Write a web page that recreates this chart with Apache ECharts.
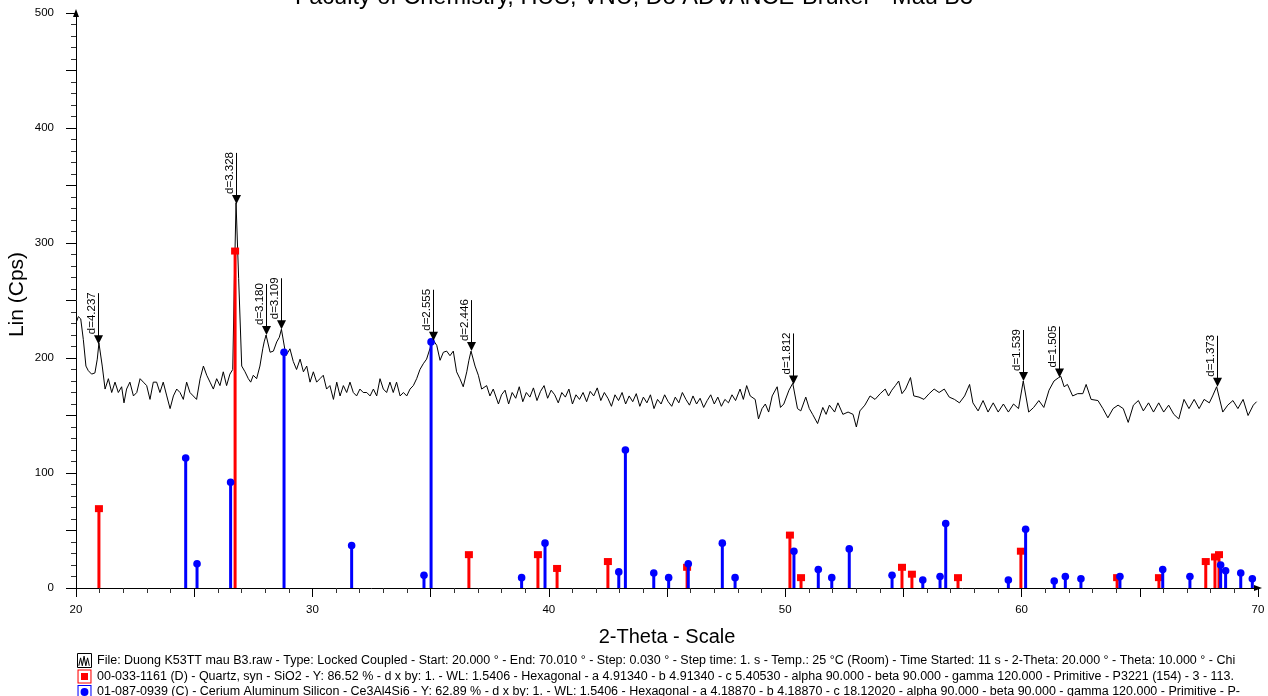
<!DOCTYPE html>
<html>
<head>
<meta charset="utf-8">
<title>XRD - Mau B3</title>
<script src="https://cdn.jsdelivr.net/npm/echarts@6/dist/echarts.min.js"></script>
<style>
    html, body { margin: 0; padding: 0; background: #fff; }
    #div_xrd { width: 1268px; height: 696px; }
</style>
</head>
<body>
<div id="div_xrd"></div>
<script>
var scanAngle = [20.03, 20.10, 20.20, 20.31, 20.42, 20.52, 20.66, 20.80, 20.90, 20.97, 21.11, 21.23, 21.37, 21.51, 21.65, 21.79, 21.93, 22.03, 22.14, 22.28, 22.43, 22.57, 22.71, 22.85, 22.99, 23.13, 23.27, 23.41, 23.55, 23.69, 23.84, 23.98, 24.12, 24.26, 24.40, 24.54, 24.68, 24.82, 24.96, 25.10, 25.25, 25.39, 25.53, 25.67, 25.81, 25.95, 26.09, 26.23, 26.37, 26.51, 26.63, 26.70, 26.77, 26.88, 27.01, 27.15, 27.29, 27.39, 27.50, 27.64, 27.78, 27.90, 27.96, 28.04, 28.21, 28.35, 28.49, 28.60, 28.69, 28.88, 29.05, 29.19, 29.33, 29.48, 29.62, 29.76, 29.90, 30.04, 30.18, 30.32, 30.46, 30.60, 30.74, 30.89, 31.03, 31.17, 31.31, 31.45, 31.59, 31.73, 31.87, 32.01, 32.15, 32.30, 32.44, 32.58, 32.72, 32.86, 33.00, 33.14, 33.28, 33.42, 33.56, 33.71, 33.85, 33.99, 34.13, 34.27, 34.41, 34.55, 34.69, 34.83, 34.97, 35.10, 35.26, 35.40, 35.54, 35.68, 35.82, 35.96, 36.10, 36.24, 36.38, 36.53, 36.62, 36.71, 36.88, 37.02, 37.16, 37.37, 37.51, 37.65, 37.87, 38.00, 38.15, 38.30, 38.45, 38.60, 38.75, 38.90, 39.05, 39.20, 39.35, 39.50, 39.65, 39.80, 39.95, 40.10, 40.25, 40.40, 40.55, 40.70, 40.85, 41.00, 41.15, 41.30, 41.45, 41.60, 41.75, 41.90, 42.05, 42.20, 42.35, 42.50, 42.65, 42.80, 42.95, 43.10, 43.25, 43.40, 43.55, 43.70, 43.85, 44.00, 44.15, 44.30, 44.45, 44.60, 44.75, 44.90, 45.05, 45.20, 45.35, 45.50, 45.65, 45.80, 45.95, 46.10, 46.25, 46.40, 46.55, 46.70, 46.85, 47.00, 47.15, 47.30, 47.45, 47.60, 47.75, 47.90, 48.09, 48.23, 48.37, 48.52, 48.73, 48.87, 49.02, 49.16, 49.30, 49.45, 49.66, 49.80, 49.94, 50.16, 50.32, 50.52, 50.66, 50.87, 51.02, 51.16, 51.37, 51.59, 51.73, 51.87, 52.09, 52.23, 52.44, 52.66, 52.87, 53.01, 53.16, 53.37, 53.59, 53.80, 54.02, 54.23, 54.37, 54.51, 54.66, 54.80, 54.94, 55.09, 55.30, 55.44, 55.66, 55.87, 56.09, 56.30, 56.51, 56.73, 56.94, 57.16, 57.37, 57.59, 57.80, 57.94, 58.16, 58.37, 58.58, 58.80, 59.01, 59.23, 59.44, 59.66, 59.87, 60.07, 60.30, 60.51, 60.73, 60.94, 61.16, 61.37, 61.57, 61.66, 61.80, 61.94, 62.16, 62.37, 62.59, 62.73, 62.94, 63.23, 63.44, 63.65, 63.87, 64.08, 64.30, 64.51, 64.73, 64.94, 65.15, 65.37, 65.58, 65.80, 66.01, 66.22, 66.44, 66.65, 66.87, 67.08, 67.30, 67.51, 67.72, 67.94, 68.08, 68.25, 68.51, 68.72, 68.94, 69.15, 69.37, 69.58, 69.80, 69.94];
var scanCounts = [232, 236, 234, 216, 193, 189, 186, 187, 199, 213, 193, 173, 182, 170, 179, 170, 175, 161, 173, 179, 167, 170, 182, 179, 176, 164, 179, 179, 170, 179, 167, 156, 167, 173, 170, 164, 179, 170, 167, 164, 182, 193, 185, 179, 173, 182, 176, 188, 176, 186, 190, 268, 335, 269, 193, 188, 182, 179, 185, 182, 193, 208, 214, 220, 205, 206, 214, 218, 225, 202, 208, 197, 190, 199, 188, 193, 179, 188, 179, 182, 185, 173, 176, 164, 179, 167, 176, 170, 179, 170, 167, 173, 170, 170, 167, 173, 167, 182, 173, 170, 179, 170, 179, 167, 170, 167, 173, 176, 182, 190, 195, 199, 208, 216, 211, 198, 205, 206, 202, 206, 188, 182, 175, 188, 198, 206, 193, 185, 173, 176, 167, 173, 160, 168, 172, 160, 170, 165, 175, 162, 170, 166, 174, 163, 171, 176, 165, 172, 168, 161, 170, 166, 173, 160, 168, 164, 170, 162, 171, 167, 174, 163, 170, 165, 158, 168, 163, 170, 160, 167, 162, 169, 158, 166, 161, 168, 156, 164, 160, 168, 162, 158, 166, 161, 170, 164, 159, 167, 160, 165, 157, 163, 168, 160, 166, 158, 164, 161, 168, 163, 173, 164, 176, 167, 164, 147, 156, 160, 153, 167, 175, 157, 160, 172, 178, 156, 154, 166, 156, 151, 143, 157, 151, 159, 153, 161, 151, 153, 151, 140, 154, 159, 167, 164, 169, 173, 167, 172, 176, 180, 169, 173, 183, 167, 166, 164, 169, 173, 170, 173, 166, 164, 161, 167, 177, 161, 154, 163, 153, 161, 153, 160, 153, 160, 156, 180, 153, 157, 163, 157, 172, 180, 183, 184, 175, 177, 167, 169, 169, 177, 164, 163, 156, 148, 156, 159, 156, 144, 159, 163, 154, 161, 153, 161, 153, 159, 151, 147, 164, 156, 164, 156, 164, 161, 167, 175, 153, 159, 163, 156, 164, 150, 159, 162];

// 00-033-1161 Quartz reference lines
var quartzAngle = [20.97, 26.73, 36.62, 39.54, 40.35, 42.50, 45.85, 50.20, 50.67, 54.94, 55.36, 57.31, 59.97, 64.04, 65.81, 67.79, 68.18, 68.35];
var quartzCounts = [69, 293, 29, 29, 17, 23, 18, 46, 9, 18, 12, 9, 32, 9, 9, 23, 27, 29];

// 01-087-0939 Ce3Al4Si6 reference lines
var ceriumAngle = [24.64, 25.12, 26.54, 28.80, 31.66, 34.72, 35.02, 38.85, 39.84, 42.96, 43.24, 44.44, 45.07, 45.90, 47.34, 47.88, 50.37, 51.40, 51.97, 52.71, 54.52, 55.82, 56.55, 56.79, 59.44, 60.17, 61.38, 61.85, 62.51, 64.16, 65.97, 67.12, 68.42, 68.63, 69.27, 69.76];
var ceriumCounts = [113, 21, 92, 205, 37, 11, 214, 9, 39, 14, 120, 13, 9, 21, 39, 9, 32, 16, 9, 34, 11, 7, 10, 56, 7, 51, 6, 10, 8, 10, 16, 10, 20, 15, 13, 8];

// peaks marked with d-spacing
var peakAngle = [20.95, 26.77, 28.04, 28.69, 35.10, 36.71, 50.32, 60.07, 61.57, 68.25];
var peakCounts = [212, 334, 220, 225, 215, 206, 177, 180, 183, 175];
var peakLabels = ['d=4.237', 'd=3.328', 'd=3.180', 'd=3.109', 'd=2.555', 'd=2.446', 'd=1.812', 'd=1.539', 'd=1.505', 'd=1.373'];

var scanName = 'File: Duong K53TT mau B3.raw - Type: Locked Coupled - Start: 20.000 ° - End: 70.010 ° - Step: 0.030 ° - Step time: 1. s - Temp.: 25 °C (Room) - Time Started: 11 s - 2-Theta: 20.000 ° - Theta: 10.000 ° - Chi';
var quartzName = '00-033-1161 (D) - Quartz, syn - SiO2 - Y: 86.52 % - d x by: 1. - WL: 1.5406 - Hexagonal - a 4.91340 - b 4.91340 - c 5.40530 - alpha 90.000 - beta 90.000 - gamma 120.000 - Primitive - P3221 (154) - 3 - 113.';
var ceriumName = '01-087-0939 (C) - Cerium Aluminum Silicon - Ce3Al4Si6 - Y: 62.89 % - d x by: 1. - WL: 1.5406 - Hexagonal - a 4.18870 - b 4.18870 - c 18.12020 - alpha 90.000 - beta 90.000 - gamma 120.000 - Primitive - P-';

var FONT = '"Liberation Sans", Arial, sans-serif';

function zip(xs, ys) {
    return xs.map(function (x, i) { return [x, ys[i]]; });
}

/**
 * stick (reference line) with a marker on top
 */
function stickRenderer(color, marker) {
    return function (params, api) {
        var top = api.coord([api.value(0), api.value(1)]);
        var base = api.coord([api.value(0), 0]);
        var head;
        if (marker === 'square') {
            head = {type: 'rect', shape: {x: top[0] - 4, y: top[1] - 3.5, width: 8, height: 7}, style: {fill: color}};
        } else {
            head = {type: 'circle', shape: {cx: top[0], cy: top[1], r: 3.8}, style: {fill: color}};
        }
        return {
            type: 'group',
            children: [
                {type: 'line', shape: {x1: top[0], y1: top[1], x2: base[0], y2: base[1]}, style: {stroke: color, lineWidth: 3}},
                head
            ]
        };
    };
}

/**
 * arrow + d label above a peak
 */
function peakRenderer(params, api) {
    var p = api.coord([api.value(0), api.value(1)]);
    var x = Math.round(p[0]) + 0.5;
    var y = p[1];
    return {
        type: 'group',
        children: [
            {type: 'line', shape: {x1: x, y1: y - 51, x2: x, y2: y - 8}, style: {stroke: '#000', lineWidth: 1}},
            {type: 'polygon', shape: {points: [[x - 4.5, y - 9], [x + 4.5, y - 9], [x, y]]}, style: {fill: '#000'}},
            {
                type: 'text', x: x - 6.5, y: y - 10, rotation: Math.PI / 2,
                style: {text: peakLabels[params.dataIndex], x: 0, y: 0, fill: '#000', font: '11.5px ' + FONT, align: 'left', verticalAlign: 'middle'}
            }
        ]
    };
}

var iconScan = 'path://M0,0H16V16H0Z M1.5,14L3.5,5L5.5,14L7.5,3L9.5,14L11.5,5L13.5,14';
var iconQuartz = 'path://M0,0H16V16H0Z M1.2,1.2V14.8H14.8V1.2Z M4,4H12V12H4Z';
var iconCerium = 'path://M0,0H16V16H0Z M1.2,1.2V14.8H14.8V1.2Z M8,3.5A4.5,4.5,0,1,1,8,12.5A4.5,4.5,0,1,1,8,3.5Z';

var option_xrd = {
    animation: false,
    backgroundColor: '#fff',
    textStyle: {fontFamily: FONT, color: '#000'},
    title: {
        text: 'Faculty of Chemistry, HUS, VNU, D8 ADVANCE-Bruker - Mau B3',
        left: 'center',
        top: -14,
        padding: 0,
        textStyle: {fontFamily: FONT, fontSize: 23.5, fontWeight: 'normal', color: '#000'}
    },
    grid: {left: 76, right: 10, top: 13, bottom: 108, containLabel: false, outerBoundsMode: 'none'},
    legend: {
        orient: 'vertical',
        left: 77,
        top: 653,
        height: 60,
        padding: 0,
        itemWidth: 15,
        itemHeight: 14,
        itemGap: 1.5,
        selectedMode: false,
        textStyle: {fontFamily: FONT, fontSize: 12.5, color: '#000'},
        data: [
            {name: scanName, icon: iconScan, itemStyle: {color: 'transparent', borderColor: '#000', borderWidth: 1}},
            {name: quartzName, icon: iconQuartz, itemStyle: {color: '#ff0000', borderWidth: 0}},
            {name: ceriumName, icon: iconCerium, itemStyle: {color: '#0000ff', borderWidth: 0}}
        ]
    },
    xAxis: {
        type: 'value',
        min: 20,
        max: 70,
        interval: 5,
        name: '2-Theta - Scale',
        nameLocation: 'middle',
        nameGap: 39,
        nameTextStyle: {fontFamily: FONT, fontSize: 20, color: '#000'},
        splitLine: {show: false},
        axisLine: {onZero: false, symbol: ['none', 'triangle'], symbolSize: [6, 8], lineStyle: {color: '#000', width: 1}},
        axisTick: {length: 9, lineStyle: {color: '#000'}},
        minorTick: {show: true, splitNumber: 5, length: 5, lineStyle: {color: '#333'}},
        axisLabel: {
            margin: 16,
            fontSize: 11.5,
            color: '#000',
            fontFamily: FONT,
            formatter: function (v) { return v % 10 === 0 ? String(v) : ''; }
        }
    },
    yAxis: {
        type: 'value',
        min: 0,
        max: 500,
        interval: 50,
        name: 'Lin (Cps)',
        nameLocation: 'middle',
        nameRotate: 90,
        nameGap: 48,
        nameMoveOverlap: false,
        nameTextStyle: {fontFamily: FONT, fontSize: 21, color: '#000', padding: [0, 0, 0, 12]},
        splitLine: {show: false},
        axisLine: {symbol: ['none', 'triangle'], symbolSize: [6, 8], lineStyle: {color: '#000', width: 1}},
        axisTick: {length: 10, lineStyle: {color: '#000'}},
        minorTick: {show: true, splitNumber: 5, length: 5, lineStyle: {color: '#333'}},
        axisLabel: {
            margin: 22,
            fontSize: 11.5,
            color: '#000',
            fontFamily: FONT,
            formatter: function (v) { return v % 100 === 0 ? String(v) : ''; }
        }
    },
    series: [
        {
            name: scanName,
            type: 'line',
            data: zip(scanAngle, scanCounts),
            symbol: 'none',
            itemStyle: {color: '#000'},
            lineStyle: {color: '#000', width: 1},
            z: 2
        },
        {
            name: quartzName,
            type: 'custom',
            data: zip(quartzAngle, quartzCounts),
            encode: {x: 0, y: 1},
            renderItem: stickRenderer('#ff0000', 'square'),
            itemStyle: {color: '#ff0000'},
            z: 3
        },
        {
            name: ceriumName,
            type: 'custom',
            data: zip(ceriumAngle, ceriumCounts),
            encode: {x: 0, y: 1},
            renderItem: stickRenderer('#0000ff', 'circle'),
            itemStyle: {color: '#0000ff'},
            z: 4
        },
        {
            name: 'peaks',
            type: 'custom',
            data: zip(peakAngle, peakCounts),
            encode: {x: 0, y: 1},
            renderItem: peakRenderer,
            z: 5
        }
    ]
};

var xrd_chart = echarts.init(document.getElementById('div_xrd'));
xrd_chart.setOption(option_xrd);
</script>
</body>
</html>
